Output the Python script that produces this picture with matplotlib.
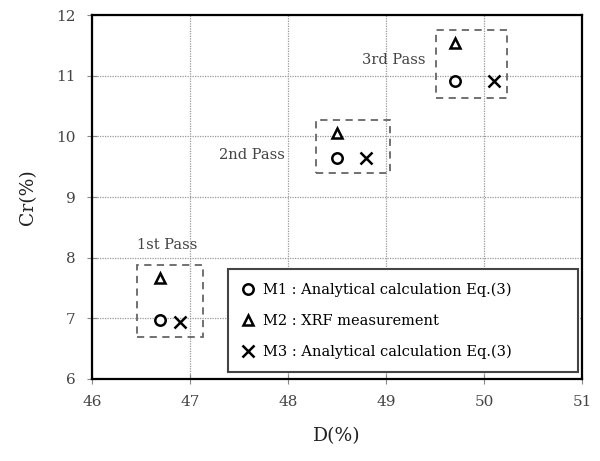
import matplotlib

matplotlib.use("Agg")
import matplotlib.pyplot as plt
from matplotlib.patches import Rectangle

# data
passes = ["1st Pass", "2nd Pass", "3rd Pass"]
m1_d = [46.7, 48.5, 49.7]
m1_cr = [6.97, 9.64, 10.92]
m2_d = [46.7, 48.5, 49.7]
m2_cr = [7.67, 10.05, 11.54]
m3_d = [46.9, 48.8, 50.1]
m3_cr = [6.94, 9.64, 10.92]
labels = [
    "M1 : Analytical calculation Eq.(3)",
    "M2 : XRF measurement",
    "M3 : Analytical calculation Eq.(3)",
]
x_ticks = [46, 47, 48, 49, 50, 51]
y_ticks = [6, 7, 8, 9, 10, 11, 12]

# dashed boxes around each pass (x0, x1, y0, y1)
boxes = [(46.46, 47.13, 6.69, 7.88), (48.29, 49.04, 9.39, 10.27), (49.51, 50.24, 10.64, 11.75)]
label_pos = [(46.77, 8.21, "center"), (47.97, 9.69, "right"), (49.40, 11.26, "right")]

plt.rcParams["font.family"] = ["DejaVu Serif"]

fig = plt.figure(figsize=(6, 4.61), dpi=100)
ax = fig.add_axes([0.153, 0.178, 0.817, 0.789])

ax.plot(m1_d, m1_cr, "o", ms=7.5, mfc="white", mec="black", mew=1.8, ls="none", label=labels[0])
ax.plot(m2_d, m2_cr, "^", ms=7.5, mfc="white", mec="black", mew=1.8, ls="none", label=labels[1])
ax.plot(m3_d, m3_cr, "x", ms=8, color="black", mew=1.8, ls="none", label=labels[2])

for (x0, x1, y0, y1) in boxes:
    ax.add_patch(Rectangle((x0, y0), x1 - x0, y1 - y0, fill=False, ec="#666666",
                           lw=1.3, ls=(0, (4, 3))))
for name, (x, y, ha) in zip(passes, label_pos):
    ax.text(x, y, name, ha=ha, va="center", fontsize=10.5, color="#444444")

ax.set_xlim(46, 51)
ax.set_ylim(6, 12)
ax.set_xticks(x_ticks)
ax.set_yticks(y_ticks)
ax.grid(True, color="#999999", ls=(0, (1, 1)), lw=0.9)
ax.set_axisbelow(True)
ax.tick_params(direction="inout", length=7, color="#888888", labelsize=11,
               labelcolor="#444444", pad=8)
for sp in ax.spines.values():
    sp.set_linewidth(1.6)
    sp.set_color("black")

ax.set_xlabel("D(%)", fontsize=13.5, labelpad=13, color="#222222")
ax.set_ylabel("Cr(%)", fontsize=13.5, labelpad=14, color="#222222")

leg = ax.legend(loc="lower left", bbox_to_anchor=(0.2776, 0.019, 0.7144, 0.29),
                mode="expand", borderaxespad=0, fontsize=10.5,
                frameon=True, fancybox=False, shadow=False, borderpad=0.9,
                labelspacing=1.15, handlelength=1.0, handletextpad=0.5, framealpha=1)
leg.get_frame().set_edgecolor("#444444")
leg.get_frame().set_linewidth(1.5)

fig.savefig("out.png", dpi=100)
